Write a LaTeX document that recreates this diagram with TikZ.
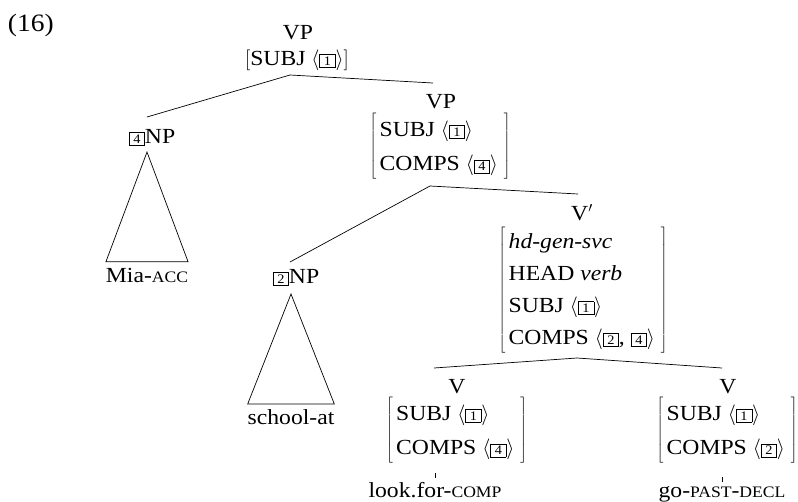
\documentclass[tikz,border=0pt]{standalone}
\usepackage{fontspec}
\setmainfont[FakeStretch=1.1]{Liberation Serif}
\renewcommand\arraystretch{1.34}
\newcommand\tg[1]{{\setlength\fboxsep{2pt}\setlength\fboxrule{0.5pt}\fbox{\fontsize{13}{13}\selectfont\hspace{2pt}#1\hspace{2pt}}}}
\newcommand\fsc[1]{{\fontsize{16}{16}\selectfont #1}}
\newcommand\avm[1]{$\left[\,\begin{tabular}{@{}l@{}}#1\end{tabular}\;\right]$}
\newcommand\lst[1]{$\langle$#1$\rangle$}
\begin{document}
\begin{tikzpicture}[x=1pt,y=-1pt,
  every node/.style={inner sep=0pt,outer sep=0pt,font=\fontsize{21.5}{25.8}\selectfont},
  lbl/.style={anchor=base},
  avmbox/.style={anchor=north},
  edge/.style={line width=0.7pt}]
\useasboundingbox (0,0) rectangle (798,501);
\node[anchor=base west,font=\fontsize{25}{30}\selectfont] (ex) at (8,31) {(16)};
% top VP
\node[lbl] (vp1) at (298,39.5) {VP};
\node[lbl] (a1) at (297,65) {$\Bigl[$SUBJ \lst{\tg{1}}$\Bigr]$};
\coordinate (b1) at (290,75);
% 4NP
\node[lbl] (np4) at (152,143) {\tg{4}NP};
\coordinate (t4) at (147,117);
\coordinate (apex4) at (147,152);
\node[lbl] (mia) at (147,282) {Mia-\fsc{ACC}};
% VP2
\node[lbl] (vp2) at (441,108) {VP};
\node[avmbox] (a2) at (440,112) {\avm{SUBJ \lst{\tg{1}}\\COMPS \lst{\tg{4}}}};
\coordinate (t2) at (433,83);
\coordinate (b2) at (430,186);
% 2NP
\node[lbl] (np2) at (296,283) {\tg{2}NP};
\coordinate (tn2) at (290,262);
\coordinate (apex2) at (291,294);
\node[lbl] (sch) at (291,424) {school-at};
% V'
\node[lbl] (vbar) at (582,220) {V$'$};
\node[avmbox] (a3) at (583,226) {\renewcommand\arraystretch{1.24}\avm{\textit{hd-gen-svc}\\HEAD \textit{verb}\\SUBJ \lst{\tg{1}}\\COMPS \lst{\tg{2}, \tg{4}}}};
\coordinate (t3) at (578,194);
\coordinate (b3) at (577,358);
% left V
\node[lbl] (v1) at (457,393) {V};
\node[avmbox] (a4) at (456.5,396) {\avm{SUBJ \lst{\tg{1}}\\COMPS \lst{\tg{4}}}};
\coordinate (t4v) at (434,368);
\node[lbl] (w1) at (435,497) {look.for-\fsc{COMP}};
% right V
\node[lbl] (v2) at (728,393) {V};
\node[avmbox] (a5) at (727,396) {\avm{SUBJ \lst{\tg{1}}\\COMPS \lst{\tg{2}}}};
\coordinate (t5v) at (722,368);
\node[lbl] (w2) at (722,497) {go-\fsc{PAST}-\fsc{DECL}};
% edges
\draw[edge] (b1) -- (t4);
\draw[edge] (b1) -- (t2);
\draw[edge] (apex4) -- ([yshift=6pt]mia.north west) -- ([yshift=6pt]mia.north east) -- cycle;
\draw[edge] (b2) -- (tn2);
\draw[edge] (b2) -- (t3);
\draw[edge] (apex2) -- ([yshift=5pt]sch.north west) -- ([yshift=5pt]sch.north east) -- cycle;
\draw[edge] (b3) -- (t4v);
\draw[edge] (b3) -- (t5v);
\draw[edge] ([yshift=4pt]w1.north) -- ([yshift=9pt]w1.north);
\draw[edge] ([yshift=4pt]w2.north) -- ([yshift=9pt]w2.north);
\end{tikzpicture}
\end{document}
